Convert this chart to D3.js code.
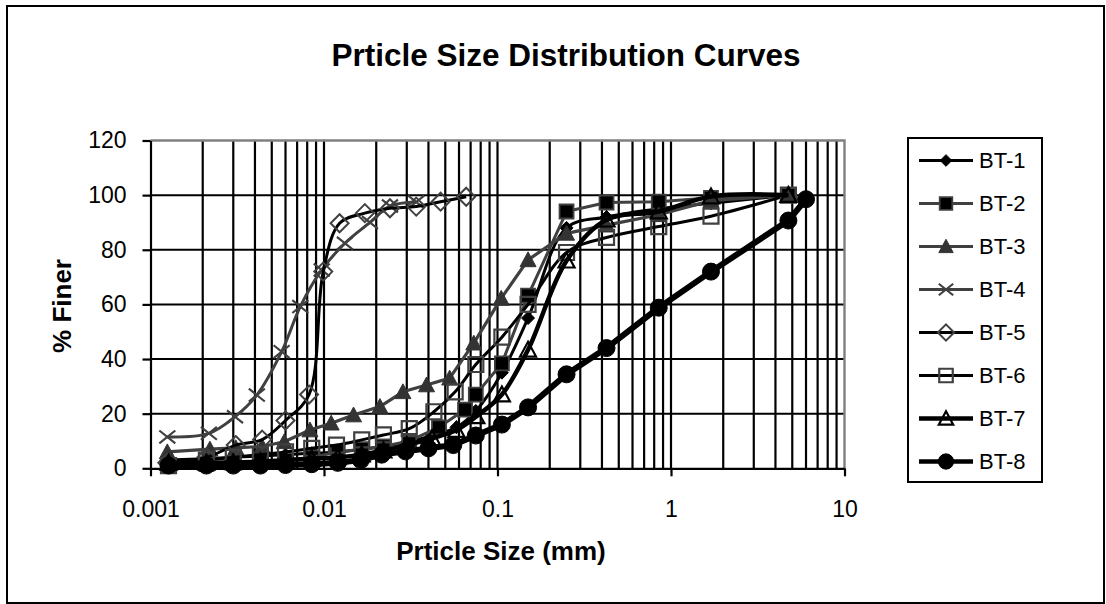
<!DOCTYPE html>
<html>
<head>
<meta charset="utf-8">
<script src="https://cdn.jsdelivr.net/npm/d3@7"></script>
<style>
  html, body { margin: 0; padding: 0; background: #fff; }
  svg { display: block; font-family: "Liberation Sans", Arial, sans-serif; }
</style>
</head>
<body>
<svg id="chart" width="1106" height="604"></svg>
<script>
// Grain size data: [particle size (mm), % finer]
const seriesNames = ["BT-1", "BT-2", "BT-3", "BT-4", "BT-5", "BT-6", "BT-7", "BT-8"];

const bt1 = [[0.00127,3],[0.0021,3.5],[0.003,4],[0.0043,4.5],[0.006,5],[0.0085,5.5],[0.012,6],[0.0165,7],[0.022,8],[0.03,9.5],[0.042,12],[0.058,15],[0.075,21],[0.106,35],[0.15,55],[0.25,88],[0.425,92],[0.85,95],[1.7,97],[4.75,100]];
const bt2 = [[0.00127,1],[0.0021,1.5],[0.003,2],[0.0043,2.5],[0.006,3],[0.0085,4],[0.012,6],[0.0165,7],[0.022,8],[0.031,10],[0.046,15],[0.065,21.5],[0.075,27],[0.106,38.4],[0.15,63.2],[0.25,94],[0.425,97.3],[0.85,97.6],[1.7,99],[4.75,100]];
const bt3 = [[0.00125,6],[0.0022,7],[0.0031,7.5],[0.0044,8],[0.0059,9.7],[0.0083,14],[0.011,16.5],[0.0148,19.5],[0.021,22.6],[0.0285,28],[0.039,30.5],[0.053,33],[0.073,45.8],[0.105,62.2],[0.15,76.3],[0.25,86],[0.425,89],[0.85,92.8],[1.7,98],[4.75,100]];
const bt4 = [[0.00125,11.5],[0.00217,12.8],[0.00307,18.9],[0.0041,26.8],[0.0057,42.7],[0.0073,59.2],[0.0097,72.6],[0.0132,82.4],[0.0184,90],[0.024,96],[0.034,97.5]];
const bt5 = [[0.00125,2],[0.0021,4],[0.0031,8.5],[0.0044,10.5],[0.006,17.5],[0.0082,27],[0.0099,72],[0.0123,89.7],[0.0172,93.4],[0.024,95.2],[0.034,95.8],[0.047,97.6],[0.066,99.4]];
const bt6 = [[0.00127,1],[0.0021,3],[0.003,4],[0.0043,5],[0.006,6],[0.0085,7.3],[0.0118,8.5],[0.0165,10.4],[0.022,12.2],[0.031,14.5],[0.043,20.7],[0.057,28],[0.075,38],[0.106,48],[0.15,60],[0.25,79],[0.425,84.5],[0.85,88.5],[1.7,92.3],[4.75,100]];
const bt7 = [[0.00127,2],[0.0021,2],[0.003,2.2],[0.0043,2.5],[0.006,3],[0.0085,3.5],[0.012,4],[0.0165,5],[0.022,6.5],[0.03,8.5],[0.042,11],[0.058,14],[0.0755,19],[0.106,27],[0.15,43.4],[0.25,76],[0.425,91],[0.85,94],[1.7,99.5],[4.75,100]];
const bt8 = [[0.00127,1],[0.0021,1],[0.003,1],[0.0043,1],[0.006,1.2],[0.0085,1.5],[0.012,2],[0.0163,3],[0.0215,5],[0.0295,6.2],[0.04,7.3],[0.0556,8.5],[0.075,12],[0.106,16],[0.15,22.3],[0.25,34.4],[0.425,44],[0.85,58.8],[1.7,72],[4.75,90.7],[6.0,98.5]];

const xTickValues = [0.001, 0.01, 0.1, 1, 10];
const xTickLabels = ["0.001", "0.01", "0.1", "1", "10"];
const yTickValues = [0, 20, 40, 60, 80, 100, 120];

// Appearance of each series: line colour/width, marker shape and paint
const styles = [
  { data: bt1, line: "#000",    lw: 3,   smooth: true,  shape: "diamond",  r: 6.5, fill: "#000",  stroke: "#000",    sw: 1 },
  { data: bt2, line: "#404040", lw: 3,   smooth: false, shape: "square",   r: 7,   fill: "#000",  stroke: "#404040", sw: 1.8 },
  { data: bt3, line: "#404040", lw: 3.2, smooth: false, shape: "triangle", r: 8,   fill: "#333",  stroke: "#333",    sw: 1 },
  { data: bt4, line: "#404040", lw: 3,   smooth: true,  shape: "x",        r: 8,   fill: "none",  stroke: "#404040", sw: 2.2 },
  { data: bt5, line: "#000",    lw: 3,   smooth: true,  shape: "diamond",  r: 9,   fill: "none",  stroke: "#404040", sw: 2 },
  { data: bt6, line: "#000",    lw: 3,   smooth: true,  shape: "square",   r: 7.5, fill: "none",  stroke: "#404040", sw: 2.2 },
  { data: bt7, line: "#000",    lw: 4.5, smooth: true,  shape: "triangle", r: 8,   fill: "none",  stroke: "#000",    sw: 2.2 },
  { data: bt8, line: "#000",    lw: 6,   smooth: false, shape: "circle",   r: 8.5, fill: "#000",  stroke: "#000",    sw: 1 }
];

function markerPath(shape, r) {
  const p = d3.path();
  if (shape === "diamond") {
    p.moveTo(0, -r); p.lineTo(r, 0); p.lineTo(0, r); p.lineTo(-r, 0); p.closePath();
  } else if (shape === "square") {
    p.rect(-r, -r, 2 * r, 2 * r);
  } else if (shape === "triangle") {
    p.moveTo(0, -r); p.lineTo(r, r * 0.85); p.lineTo(-r, r * 0.85); p.closePath();
  } else if (shape === "x") {
    p.moveTo(-r, -r * 0.8); p.lineTo(r, r * 0.8); p.moveTo(-r, r * 0.8); p.lineTo(r, -r * 0.8);
  } else {
    p.arc(0, 0, r, 0, 2 * Math.PI); p.closePath();
  }
  return p.toString();
}

const svg = d3.select("#chart");

// chart frame
svg.append("rect").attr("x", 7).attr("y", 6).attr("width", 1097).attr("height", 597)
  .attr("fill", "#fff").attr("stroke", "#000").attr("stroke-width", 2);

const plot = { left: 150.5, right: 844.5, top: 140.5, bottom: 468.3 };

const x = d3.scaleLog().domain([0.001, 10]).range([plot.left, plot.right]);
const y = d3.scaleLinear().domain([0, 120]).range([plot.bottom, plot.top]);

// horizontal gridlines
svg.append("g").selectAll("line").data(yTickValues.filter(v => v > 0 && v < 120)).join("line")
  .attr("x1", plot.left).attr("x2", plot.right)
  .attr("y1", d => y(d)).attr("y2", d => y(d))
  .attr("stroke", "#000").attr("stroke-width", 2);

// vertical log gridlines (1..9 per decade)
const vLines = [];
[0.001, 0.01, 0.1, 1].forEach(dec => { for (let k = 1; k <= 9; k++) vLines.push(k * dec); });
svg.append("g").selectAll("line").data(vLines.filter(v => v > 0.001)).join("line")
  .attr("x1", d => x(d)).attr("x2", d => x(d))
  .attr("y1", plot.top).attr("y2", plot.bottom)
  .attr("stroke", "#000").attr("stroke-width", 2.2);

// gray frame on top and right
svg.append("path")
  .attr("d", `M${plot.left},${plot.top}H${plot.right}V${plot.bottom}`)
  .attr("fill", "none").attr("stroke", "#808080").attr("stroke-width", 2.4);

// axes
const yAxis = d3.axisLeft(y).tickValues(yTickValues).tickSize(8).tickSizeOuter(0).tickPadding(16);
const gy = svg.append("g").attr("transform", `translate(${plot.left},0)`).call(yAxis);
const xAxis = d3.axisBottom(x).tickValues(xTickValues)
  .tickFormat((d, i) => xTickLabels[i]).tickSize(8).tickSizeOuter(0).tickPadding(24);
const gx = svg.append("g").attr("transform", `translate(0,${plot.bottom})`).call(xAxis);
[gx, gy].forEach(g => {
  g.select(".domain").attr("stroke", "#000").attr("stroke-width", 2.2);
  g.selectAll(".tick line").attr("stroke", "#000").attr("stroke-width", 2.2);
  g.selectAll(".tick text").attr("font-size", 23).attr("fill", "#000")
    .attr("font-family", "Liberation Sans, Arial, sans-serif");
});

// series
const lineGen = d3.line().x(d => x(d[0])).y(d => y(d[1]));
styles.forEach(s => {
  const g = svg.append("g");
  g.append("path").datum(s.data)
    .attr("d", lineGen.curve(s.smooth ? d3.curveCatmullRom.alpha(0.5) : d3.curveLinear))
    .attr("fill", "none").attr("stroke", s.line).attr("stroke-width", s.lw)
    .attr("stroke-linejoin", "round");
  g.selectAll("path.m").data(s.data).join("path").attr("class", "m")
    .attr("transform", d => `translate(${x(d[0])},${y(d[1])})`)
    .attr("d", markerPath(s.shape, s.r))
    .attr("fill", s.fill).attr("stroke", s.stroke).attr("stroke-width", s.sw);
});

// titles
svg.append("text").attr("x", 566).attr("y", 66).attr("text-anchor", "middle")
  .attr("font-size", 31.5).attr("font-weight", "bold").text("Prticle Size Distribution Curves");
svg.append("text").attr("x", 501).attr("y", 560).attr("text-anchor", "middle")
  .attr("font-size", 26).attr("font-weight", "bold").text("Prticle Size (mm)");
svg.append("text").attr("transform", "translate(71,306) rotate(-90)").attr("text-anchor", "middle")
  .attr("font-size", 26).attr("font-weight", "bold").text("% Finer");

// legend
const leg = svg.append("g");
leg.append("rect").attr("x", 908).attr("y", 138).attr("width", 134).attr("height", 344)
  .attr("fill", "#fff").attr("stroke", "#000").attr("stroke-width", 2);
styles.forEach((s, i) => {
  const cy = 160.5 + i * 43;
  leg.append("line").attr("x1", 919).attr("x2", 973).attr("y1", cy).attr("y2", cy)
    .attr("stroke", s.line).attr("stroke-width", Math.min(s.lw, 4.5));
  leg.append("path").attr("transform", `translate(946,${cy})`)
    .attr("d", markerPath(s.shape, s.r * 0.9))
    .attr("fill", s.fill).attr("stroke", s.stroke).attr("stroke-width", s.sw);
  leg.append("text").attr("x", 979).attr("y", cy).attr("dy", "0.36em")
    .attr("font-size", 22).text(seriesNames[i]);
});
</script>
</body>
</html>
